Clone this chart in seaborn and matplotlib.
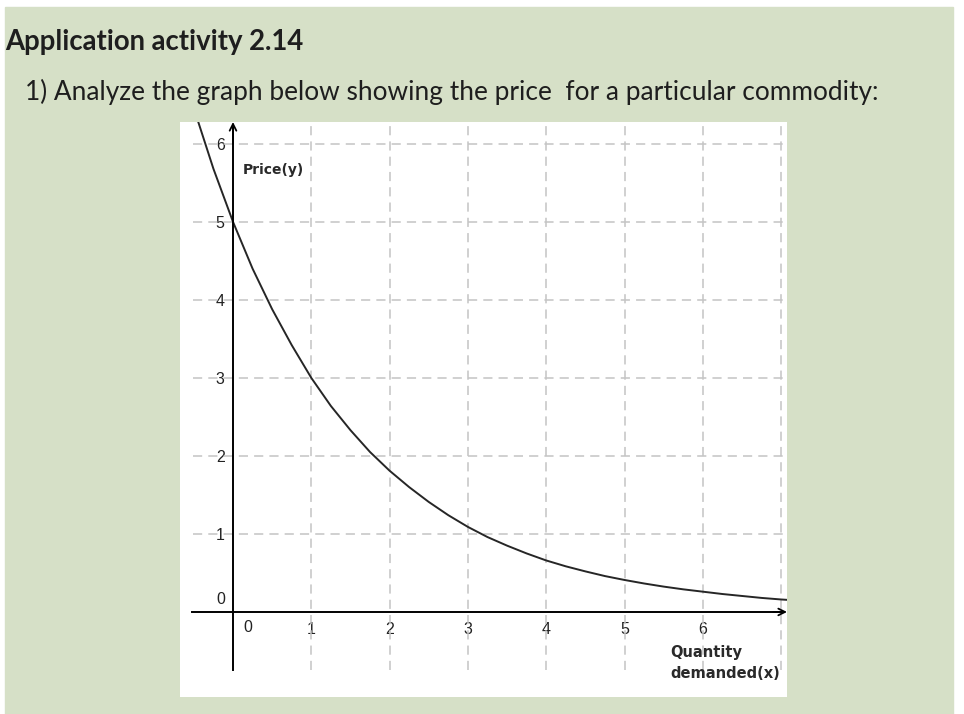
import matplotlib
matplotlib.use("Agg")
import matplotlib.pyplot as plt
import seaborn as sns
import pandas as pd
from matplotlib.patches import Rectangle

# ---- data ----
quantity = [-0.45, -0.25, 0.0, 0.25, 0.5, 0.75, 1.0, 1.25, 1.5, 1.75, 2.0, 2.25,
            2.5, 2.75, 3.0, 3.25, 3.5, 3.75, 4.0, 4.25, 4.5, 4.75, 5.0, 5.25,
            5.5, 5.75, 6.0, 6.25, 6.5, 6.75, 7.0, 7.08]
price = [6.30, 5.68, 5.00, 4.40, 3.88, 3.42, 3.00, 2.64, 2.33, 2.05, 1.81, 1.60,
         1.41, 1.24, 1.09, 0.96, 0.85, 0.75, 0.66, 0.585, 0.52, 0.46, 0.41, 0.365,
         0.325, 0.29, 0.26, 0.23, 0.205, 0.18, 0.16, 0.155]
x_ticks = [1, 2, 3, 4, 5, 6]
x_tick_labels = ["1", "2", "3", "4", "5", "6"]
y_ticks = [1, 2, 3, 4, 5, 6]
y_tick_labels = ["1", "2", "3", "4", "5", "6"]
grid_x = [1, 2, 3, 4, 5, 6, 7]
grid_y = [1, 2, 3, 4, 5, 6]
title_text = "Application activity 2.14"
subtitle_text = "1) Analyze the graph below showing the price  for a particular commodity:"
y_label = "Price(y)"
x_label = "Quantity\ndemanded(x)"

df = pd.DataFrame({"x": quantity, "y": price})

sns.set_theme(style="white")
plt.rcParams["font.family"] = ["DejaVu Sans"]

W, H = 964, 714
fig = plt.figure(figsize=(W / 100, H / 100), dpi=100)
fig.patch.set_facecolor("white")
fig.patches.append(Rectangle((5 / W, 0), (953 - 5) / W, (714 - 7) / H,
                             transform=fig.transFigure, color="#d6e0c7", zorder=-5))

ax = fig.add_axes([180 / W, (714 - 697) / H, (787 - 180) / W, (697 - 122) / H])
ax.set_zorder(2)
ax.set_facecolor("white")
ax.set_xlim(-0.677, 7.075)
ax.set_ylim(-1.09, 6.28)

grid_kw = dict(colors="#c4c4c4", linestyles=(0, (6, 4)), linewidth=1.1, zorder=1)
ax.vlines(grid_x, -0.74, 6.28, **grid_kw)
ax.hlines(grid_y, -0.51, 7.075, **grid_kw)

sns.lineplot(data=df, x="x", y="y", ax=ax, color="#262626", linewidth=1.4,
             sort=False, zorder=3)

for s in ["top", "right"]:
    ax.spines[s].set_visible(False)
ax.spines["left"].set_position(("data", 0))
ax.spines["bottom"].set_position(("data", 0))
ax.spines["left"].set_bounds(-0.74, 6.2)
ax.spines["bottom"].set_bounds(-0.53, 7.0)
for s in ["left", "bottom"]:
    ax.spines[s].set_color("black")
    ax.spines[s].set_linewidth(1.4)
    ax.spines[s].set_zorder(4)

ax.annotate("", xy=(0, 6.28), xytext=(0, 6.0), annotation_clip=False,
            arrowprops=dict(arrowstyle="->", lw=1.3, color="black",
                            shrinkA=0, shrinkB=0))
ax.annotate("", xy=(7.075, 0), xytext=(6.9, 0), annotation_clip=False,
            arrowprops=dict(arrowstyle="->", lw=1.3, color="black",
                            shrinkA=0, shrinkB=0))

ax.set_xticks(x_ticks)
ax.set_xticklabels(x_tick_labels)
ax.set_yticks(y_ticks)
ax.set_yticklabels(y_tick_labels)
ax.tick_params(axis="both", direction="out", length=4, width=1, color="black",
               labelsize=11.5, labelcolor="#222222")
ax.tick_params(axis="x", pad=3)
ax.tick_params(axis="y", pad=2)
ax.set_xlabel("")
ax.set_ylabel("")
for lab in ax.get_xticklabels() + ax.get_yticklabels():
    lab.set_fontfamily("Liberation Sans")

ax.text(0.19, -0.1, "0", ha="center", va="top", fontsize=11.5, color="#222222",
        family="Liberation Sans")
ax.text(-0.1, 0.06, "0", ha="right", va="bottom", fontsize=11.5, color="#222222",
        family="Liberation Sans")

ax.text(0.12, 5.67, y_label, ha="left", va="center", fontsize=10,
        fontweight="bold", color="#2a2a2a")
ax.text(5.58, -0.65, x_label, ha="left", va="center", fontsize=10.5,
        fontweight="bold", color="#2a2a2a", linespacing=1.5)

fig.text(5 / W, 1 - 50 / H, title_text, ha="left", va="baseline",
         fontsize=19.8, fontweight="bold", color="#1e1e1e", family="Lato")
fig.text(25 / W, 1 - 100 / H, subtitle_text, ha="left", va="baseline",
         fontsize=18.9, color="#1e1e1e", family="Lato")

fig.savefig("out.png", dpi=100, facecolor=fig.get_facecolor())
